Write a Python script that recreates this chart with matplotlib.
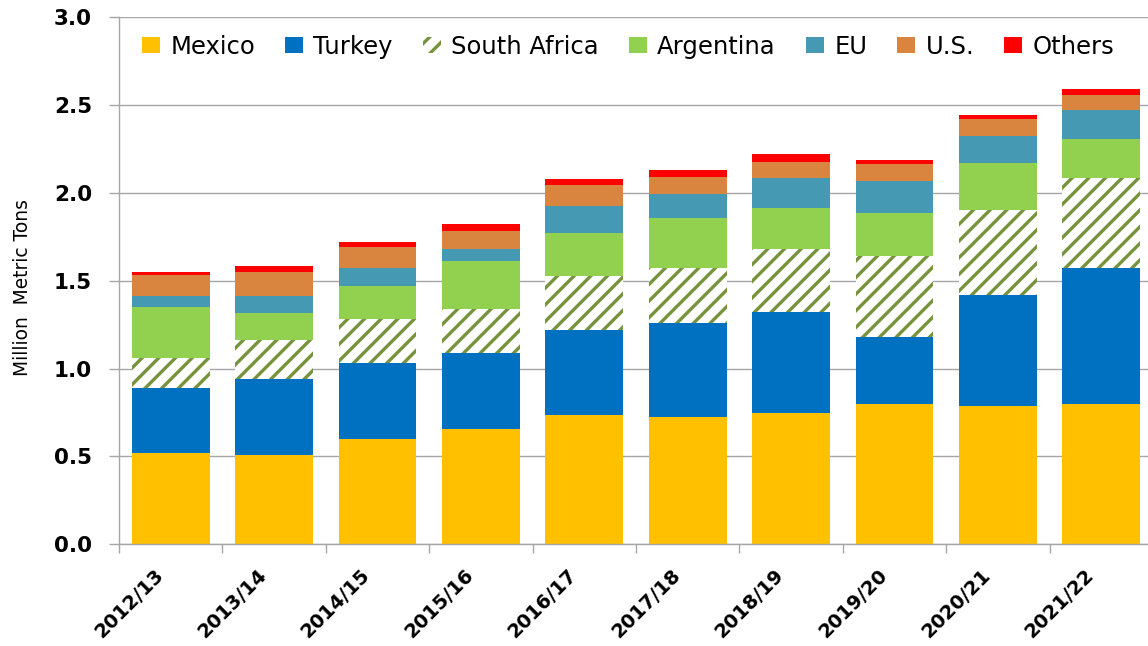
import matplotlib
matplotlib.use("Agg")
import matplotlib.pyplot as plt
import numpy as np
from matplotlib.transforms import ScaledTranslation

categories = ['2012/13', '2013/14', '2014/15', '2015/16', '2016/17',
              '2017/18', '2018/19', '2019/20', '2020/21', '2021/22']
mexico = [0.52, 0.51, 0.60, 0.655, 0.735, 0.725, 0.75, 0.80, 0.79, 0.80]
turkey = [0.37, 0.43, 0.435, 0.435, 0.485, 0.535, 0.575, 0.38, 0.63, 0.775]
south_africa = [0.17, 0.225, 0.25, 0.25, 0.305, 0.315, 0.355, 0.46, 0.485, 0.51]
argentina = [0.29, 0.15, 0.185, 0.275, 0.245, 0.28, 0.235, 0.245, 0.265, 0.225]
eu = [0.065, 0.10, 0.105, 0.065, 0.155, 0.14, 0.17, 0.185, 0.155, 0.16]
us = [0.12, 0.135, 0.12, 0.105, 0.12, 0.095, 0.09, 0.095, 0.095, 0.09]
others = [0.015, 0.035, 0.025, 0.04, 0.035, 0.04, 0.045, 0.025, 0.025, 0.03]
y_ticks = [0.0, 0.5, 1.0, 1.5, 2.0, 2.5, 3.0]

series = [
    ('Mexico', mexico, '#FFC000', None),
    ('Turkey', turkey, '#0070C0', None),
    ('South Africa', south_africa, 'white', '//'),
    ('Argentina', argentina, '#92D050', None),
    ('EU', eu, '#4599B3', None),
    ('U.S.', us, '#D9843F', None),
    ('Others', others, '#FF0000', None),
]

plt.rcParams['font.family'] = ['DejaVu Sans']
plt.rcParams['hatch.linewidth'] = 2.4

fig = plt.figure(figsize=(11.48, 6.46), dpi=100)
ax = fig.add_axes([0.1037, 0.1574, 0.9007, 0.8158])

x = np.arange(len(categories))
bottom = np.zeros(len(categories))
for name, vals, color, hatch in series:
    vals = np.array(vals)
    if hatch:
        ax.bar(x, vals, width=0.752, bottom=bottom, color='white',
               edgecolor='#77933C', hatch=hatch, linewidth=0, label=name, zorder=2)
    else:
        ax.bar(x, vals, width=0.752, bottom=bottom, color=color,
               linewidth=0, label=name, zorder=2)
    bottom = bottom + vals

ax.set_xlim(-0.5, len(categories) - 0.5)
ax.set_ylim(0, 3.0)
ax.set_yticks(y_ticks)
ax.set_yticklabels([f"{v:.1f}" for v in y_ticks], fontsize=15.5, fontweight='bold')
ax.yaxis.grid(True, color='#A6A6A6', linewidth=1.0, zorder=0)
ax.set_axisbelow(True)

# major ticks at category boundaries, labels on minor ticks at centers
ax.set_xticks(np.arange(len(categories) + 1) - 0.5)
ax.set_xticklabels([])
ax.set_xticks(x, minor=True)
ax.set_xticklabels(categories, minor=True, rotation=45, ha='right', va='top',
                   rotation_mode='anchor', fontsize=14, fontweight='bold')
ax.tick_params(axis='x', which='major', direction='out', length=6.5, width=1, color='#A6A6A6')
ax.tick_params(axis='x', which='minor', length=0, pad=15)
ax.tick_params(axis='y', direction='out', length=7, width=1, color='#A6A6A6', pad=12.5)
for lab in ax.get_xticklabels(minor=True):
    lab.set_transform(lab.get_transform() + ScaledTranslation(-17 / 100, 0, fig.dpi_scale_trans))

for s in ['top', 'right']:
    ax.spines[s].set_visible(False)
for s in ['left', 'bottom']:
    ax.spines[s].set_color('#A6A6A6')
    ax.spines[s].set_linewidth(1.0)

fig.text(22.5 / 1148, 1 - 288 / 646, 'Million  Metric Tons', rotation=90,
         ha='center', va='center', fontsize=13.4)

ax.legend(loc='center left', bbox_to_anchor=(141.7 / 1148, 1 - 47 / 646),
          bbox_transform=fig.transFigure, ncol=7, frameon=False, fontsize=17.5,
          borderpad=0, borderaxespad=0, columnspacing=1.22, handlelength=0.76,
          handleheight=0.64, handletextpad=0.42)

fig.savefig('out.png', dpi=100)
